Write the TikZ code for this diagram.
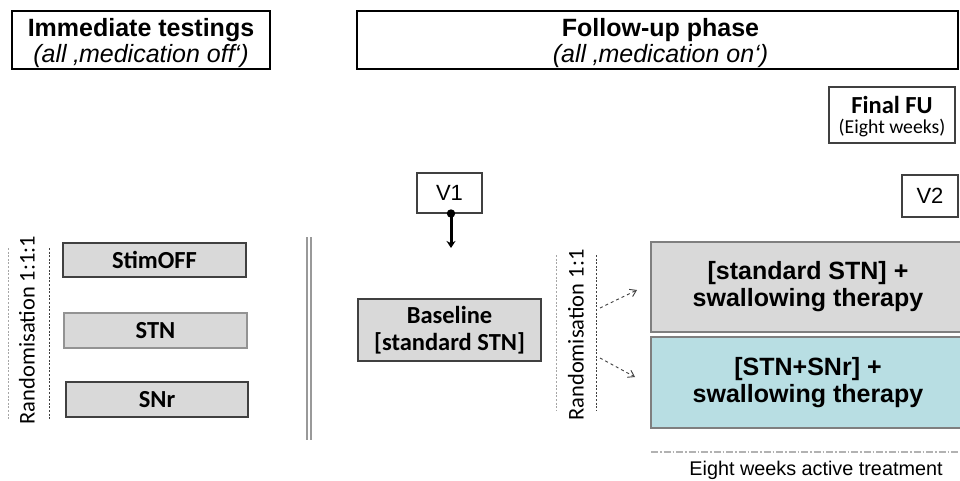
\documentclass[tikz,border=0pt]{standalone}
\usepackage{fontspec}
\setmainfont{Liberation Sans}
\newfontfamily\calfont{Carlito}
\usetikzlibrary{arrows.meta}
\definecolor{boxgray}{HTML}{D9D9D9}
\definecolor{boxteal}{HTML}{B8DEE3}
\definecolor{edgedark}{HTML}{404040}
\definecolor{edgemid}{HTML}{7F7F7F}
\tikzset{
  titlebox/.style={draw=black, line width=2pt, fill=white, inner sep=0pt},
  titletext/.style={inner sep=0pt, align=center, font=\fontsize{25}{26}\selectfont},
  visitbox/.style={draw=edgedark, line width=1.2pt, fill=white, inner sep=0pt, font=\fontsize{22}{22}\selectfont},
  armbox/.style={draw=edgedark, line width=1.3pt, fill=boxgray, inner sep=0pt, font=\calfont\bfseries\fontsize{24.5}{24.5}\selectfont},
  therapybox/.style={draw=edgemid, line width=1.3pt, inner sep=0pt, align=center, font=\bfseries\fontsize{25}{27}\selectfont},
  randlabel/.style={rotate=90, inner sep=0pt, font=\calfont\fontsize{22.5}{22.5}\selectfont},
  dotline/.style={line width=1pt, dash pattern=on 2pt off 1.6pt},
  dasharrow/.style={draw=edgedark, line width=0.9pt, dashed, -{Straight Barb[length=6pt,width=8pt]}}
}
\begin{document}
\begin{tikzpicture}[x=1pt,y=-1pt]
\path[use as bounding box, clip] (0,0) rectangle (960,481);
\fill[white] (0,0) rectangle (960,481);

% header boxes
\node[titlebox, minimum width=258pt, minimum height=58pt] (imm) at (141,40) {};
\node[titletext] (immtext) at ([yshift=-3.5pt]imm.center)
  {\textbf{Immediate testings}\\\textit{(all ‚medication off‘)}};
\node[titlebox, minimum width=601pt, minimum height=58pt] (fup) at (657.5,40) {};
\node[titletext] (fuptext) at ([xshift=3pt,yshift=-3.5pt]fup.center)
  {\textbf{Follow-up phase}\\\textit{(all ‚medication on‘)}};
\node[draw=edgedark, line width=1.2pt, inner sep=0pt, minimum width=126pt, minimum height=56pt] (final) at (892,115) {};
\node[inner sep=0pt, font=\calfont\bfseries\fontsize{24.5}{25}\selectfont] (finaltitle) at (892,105) {Final FU};
\node[inner sep=0pt, font=\calfont\fontsize{19.7}{20}\selectfont] (finalsub) at (892,128) {(Eight weeks)};

% visits
\node[visitbox, minimum width=65pt, minimum height=40pt] (v1) at (449.5,193) {V1};
\node[visitbox, minimum width=56pt, minimum height=42pt] (v2) at (930,196) {V2};
\coordinate (v1dot) at (451,213.5);
\coordinate (v1end) at (451,248);
\draw[line width=3pt, -{Stealth[length=7pt,width=9pt]}] (v1dot) -- (v1end);
\fill (v1dot) circle (4.2pt);

% immediate testing arms
\draw[draw=gray!70, dotline] (8,248) -- (8,420);
\draw[draw=edgedark, dotline] (49,248) -- (49,420);
\node[randlabel] (rand1) at (27,330) {Randomisation 1:1:1};
\node[armbox, minimum width=183pt, minimum height=34pt] (stimoff) at (154.5,260) {StimOFF};
\node[armbox, draw=gray!85, minimum width=183pt, minimum height=35pt] (stn) at (155.5,330.5) {STN};
\node[armbox, minimum width=182pt, minimum height=35pt] (snr) at (157,399.5) {SNr};

% separator
\draw[gray!80, line width=1.2pt] (307,237) -- (307,440);
\draw[gray!80, line width=1.2pt] (311,237) -- (311,440);

% follow-up
\node[armbox, align=center, font=\calfont\bfseries\fontsize{24.5}{27}\selectfont, minimum width=183pt, minimum height=62pt] (base) at (449.5,330)
  {Baseline\\{[standard STN]}};
\draw[draw=gray!70, dotline] (556,255) -- (556,410);
\draw[draw=edgedark, dotline] (596,255) -- (596,410);
\node[randlabel] (rand2) at (576,335) {Randomisation 1:1};

\node[therapybox, fill=boxgray, minimum width=314pt, minimum height=90pt] (arm1) at (808,287)
  {{[standard STN] +}\\swallowing therapy};
\node[therapybox, fill=boxteal, minimum width=314pt, minimum height=91pt] (arm2) at (808,382.5)
  {{[STN+SNr] +}\\swallowing therapy};

\coordinate (r1s) at (600,308);
\coordinate (r1e) at (637,290);
\coordinate (r2s) at (600,358);
\coordinate (r2e) at (635,377);
\draw[dasharrow] (r1s) -- (r1e);
\draw[dasharrow] (r2s) -- (r2e);

% treatment period
\coordinate (tl) at (651,452);
\coordinate (tr) at (960,452);
\draw[gray!60, line width=1.5pt, dash pattern=on 7pt off 2pt on 1.5pt off 2pt] (tl) -- (tr);
\node[inner sep=0pt, font=\fontsize{19.8}{20}\selectfont] (weeks) at (816,470) {Eight weeks active treatment};
\end{tikzpicture}
\end{document}
